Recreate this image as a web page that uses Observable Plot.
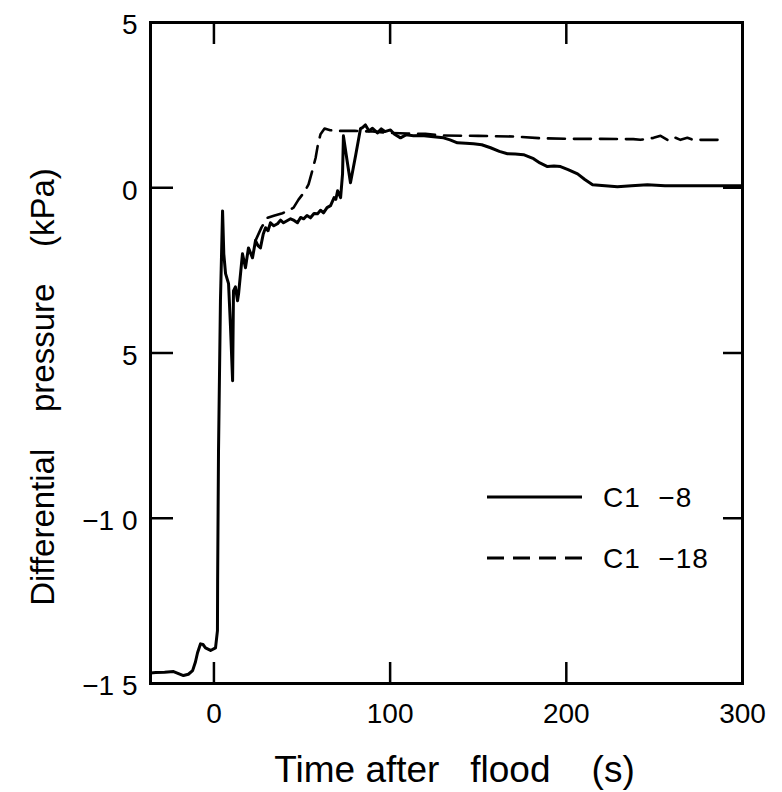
<!DOCTYPE html>
<html><head><meta charset="utf-8">
<script src="https://cdn.jsdelivr.net/npm/d3@7"></script>
<script src="https://cdn.jsdelivr.net/npm/@observablehq/plot@0.6"></script>
<style>
html,body{margin:0;padding:0;background:#fff;}
#chart{position:relative;width:782px;height:792px;}
svg text{white-space:pre;}
</style></head><body><div id="chart"></div>
<script>
// C1-8 (solid)
const c8Time = [-36,-33,-28,-22.9,-17.3,-14.5,-12.1,-10.5,-9.3,-7.6,-6.2,-4.8,-1.9,0.9,2.0,2.1,2.6,3.7,4.9,5.6,6.6,8.3,9.4,10.6,11.1,12.2,13.4,14,16.2,17.9,19.6,21.9,23.6,25,26.4,28,29.3,30.7,32.1,34,36.1,37.8,39.5,41.5,43.5,45.5,47.4,49.2,50.9,52.8,54.8,56.8,58.8,60.5,62.2,64.2,66.2,68.2,69.2,70.2,71.9,73,73.5,75.5,77.5,80.5,83.2,84.3,86,88,90,92.8,95,97,100.2,102.5,105.9,109,113.3,118,124.6,130.3,134,138.2,143,147.3,152,157,162,166.6,171,175.7,181.4,185,189.3,193,196.7,201,206.4,210.5,214.9,222,229,237,246,256,266.5,280,297,300];
const c8Dp = [-14.68,-14.67,-14.66,-14.64,-14.76,-14.72,-14.61,-14.35,-14.07,-13.8,-13.82,-13.92,-14.0,-13.92,-13.4,-11.9,-7.96,-3.42,-0.7,-2.0,-2.6,-2.9,-4.2,-5.84,-3.12,-3.0,-3.42,-3.2,-2.0,-2.42,-1.82,-2.12,-1.6,-1.75,-1.82,-1.4,-1.21,-1.3,-1.06,-1.15,-1.09,-0.98,-1.06,-1.0,-0.94,-0.99,-1.06,-0.9,-0.94,-0.84,-0.91,-0.78,-0.79,-0.68,-0.76,-0.6,-0.54,-0.3,-0.35,-0.09,-0.3,0.42,1.57,0.85,0.15,1.0,1.79,1.82,1.9,1.72,1.8,1.66,1.78,1.7,1.75,1.62,1.51,1.6,1.57,1.58,1.54,1.51,1.45,1.36,1.35,1.33,1.3,1.21,1.1,1.03,1.02,1.0,0.88,0.75,0.64,0.66,0.64,0.55,0.42,0.25,0.09,0.06,0.03,0.06,0.09,0.06,0.06,0.06,0.06,0.06];
// C1-18 (dashed)
const c18Time = [23.6,27,30.4,34,38.9,42,45.2,48,51,53.7,55.5,57.7,59,60.5,62.8,66,72,80,90,100,110,120,130,150,170,185,200,220,238,242,246,249.5,253.5,257.4,260.8,264.8,268.7,272,276,286.3];
const c18Dp = [-1.6,-1.2,-0.91,-0.85,-0.77,-0.7,-0.6,-0.36,-0.15,0.1,0.45,0.9,1.3,1.62,1.79,1.74,1.72,1.72,1.7,1.66,1.64,1.63,1.58,1.57,1.55,1.5,1.48,1.48,1.47,1.45,1.48,1.51,1.57,1.45,1.54,1.45,1.51,1.45,1.45,1.45];

const seriesNames = ["C1 -8", "C1 -18"];
const xTickValues = [0, 100, 200, 300];
const xTickLabels = ["0", "100", "200", "300"];
const yTickValues = [5, 0, -5, -10, -15];
const yTickLabels = ["5", "0", "5", "\u22121 0", "\u22121 5"];
const xTitle = "Time after   flood    (s)";
const yTitle = "Differential    pressure    (kPa)";

const c8Rows = c8Time.map((t, i) => ({series: seriesNames[0], t, dp: c8Dp[i]}));
const c18Rows = c18Time.map((t, i) => ({series: seriesNames[1], t, dp: c18Dp[i]}));

const font = "'Liberation Sans', Arial, sans-serif";
const tickMarks = (extra) => ({tickFormat: () => "", label: null, strokeWidth: 2.5, stroke: "#000", ...extra});

const plot = Plot.plot({
  width: 782, height: 792,
  marginLeft: 150, marginRight: 40, marginTop: 22, marginBottom: 109,
  style: {fontFamily: font, background: "#fff", color: "#000"},
  x: {domain: [-36, 300]},
  y: {domain: [-15, 5]},
  marks: [
    Plot.line(c8Rows, {x: "t", y: "dp", stroke: "#000", strokeWidth: 3, strokeLinejoin: "round"}),
    Plot.line(c18Rows, {x: "t", y: "dp", stroke: "#000", strokeWidth: 2.6, strokeDasharray: "17,9"}),
    Plot.axisX(tickMarks({anchor: "bottom", ticks: xTickValues, tickSize: -21})),
    Plot.axisX(tickMarks({anchor: "top", ticks: xTickValues, tickSize: -21})),
    Plot.axisY(tickMarks({anchor: "left", ticks: yTickValues, tickSize: -23})),
    Plot.axisY(tickMarks({anchor: "right", ticks: yTickValues, tickSize: -20})),
    Plot.axisX({anchor: "bottom", ticks: xTickValues, tickSize: 0, tickPadding: 20, fontSize: 28, label: null,
      tickFormat: d => xTickLabels[xTickValues.indexOf(d)]}),
    Plot.axisY({anchor: "left", ticks: yTickValues, tickSize: 0, tickPadding: 13, fontSize: 28, label: null, dy: 3,
      tickFormat: d => yTickLabels[yTickValues.indexOf(d)]}),
    Plot.frame({stroke: "#000", strokeWidth: 3}),
    Plot.text([xTitle], {frameAnchor: "bottom", dy: 87, dx: 8, fontSize: 37, lineAnchor: "middle", textAnchor: "middle", fill: "#000"}),
    Plot.text([yTitle], {frameAnchor: "left", rotate: -90, dx: -97, dy: 34, fontSize: 33, textAnchor: "middle",
      fontFamily: "'Liberation Sans Narrow', 'Liberation Sans', sans-serif", lineAnchor: "bottom", fill: "#000"})
  ]
});
document.getElementById("chart").appendChild(plot);

// Legend (inside the frame, lower right)
const legend = d3.select(plot).append("g").attr("font-family", font).attr("font-size", 28).attr("text-anchor", "start");
const dashes = [null, "17,9"];
seriesNames.forEach((name, i) => {
  const y = 497 + i * 61;
  legend.append("line").attr("x1", 487).attr("x2", 582).attr("y1", y).attr("y2", y)
    .attr("stroke", "#000").attr("stroke-width", 3).attr("stroke-dasharray", dashes[i]);
  legend.append("text").attr("x", 603).attr("y", y).attr("dy", "0.36em").attr("text-anchor", "start")
    .attr("fill", "#000").attr("letter-spacing", 1).text(name.replace(" -", "  \u2212"));
});
</script></body></html>
